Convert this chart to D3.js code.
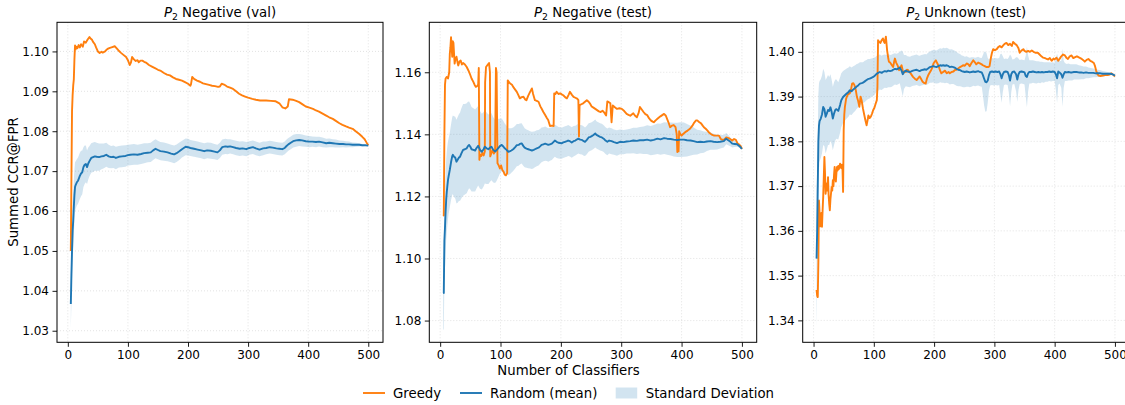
<!DOCTYPE html>
<html><head><meta charset="utf-8">
<script src="https://cdn.jsdelivr.net/npm/d3@7"></script>
<style>body{margin:0;background:#fff}svg{display:block}text{font-family:"DejaVu Sans",sans-serif;fill:#000}</style>
</head><body><svg id="chart" width="1125" height="405"></svg>
<script>
// ---------- data ----------
const xTicks = [0, 100, 200, 300, 400, 500];
const p1YTicks = [1.03, 1.04, 1.05, 1.06, 1.07, 1.08, 1.09, 1.10];
const p2YTicks = [1.08, 1.10, 1.12, 1.14, 1.16];
const p3YTicks = [1.34, 1.35, 1.36, 1.37, 1.38, 1.39, 1.40];
const titles = ["Negative (val)", "Negative (test)", "Unknown (test)"];
const legendLabels = ["Greedy", "Random (mean)", "Standard Deviation"];

// Greedy: [classifiers, value]
const p1Greedy = [[5,1.050],[6,1.068],[7,1.085],[8,1.089],[9,1.0915],[10,1.093],[11,1.098],[12,1.1015],[13,1.1005],[14,1.1012],[16,1.1008],[18,1.1016],[20,1.1010],[22,1.1018],[25,1.1012],[27,1.1025],[30,1.1022],[33,1.1030],[36,1.1036],[38,1.1032],[40,1.1030],[42,1.1024],[45,1.1018],[47,1.1010],[50,1.1000],[53,1.0996],[56,1.0999],[58,1.0997],[62,1.1000],[65,1.1005],[67,1.1007],[70,1.1009],[74,1.1011],[78,1.1013],[81,1.1008],[84,1.1003],[88,1.0997],[92,1.0992],[97,1.0986],[100,1.0978],[103,1.0966],[105,1.0972],[107,1.0986],[110,1.0980],[113,1.0976],[116,1.0978],[118,1.0973],[121,1.0977],[124,1.0977],[127,1.0974],[130,1.0972],[135,1.0966],[140,1.0962],[145,1.0958],[150,1.0954],[155,1.0951],[160,1.0946],[165,1.0942],[170,1.0940],[175,1.0935],[180,1.0931],[185,1.0929],[190,1.0927],[195,1.0923],[200,1.0919],[204,1.0914],[205,1.0918],[207,1.0936],[210,1.0931],[215,1.0927],[220,1.0924],[225,1.0920],[230,1.0918],[235,1.0916],[240,1.0914],[245,1.0913],[250,1.0911],[253,1.0912],[256,1.0919],[260,1.0917],[265,1.0912],[270,1.0909],[275,1.0906],[280,1.0900],[285,1.0894],[290,1.0890],[295,1.0887],[300,1.0884],[307,1.0881],[313,1.0879],[320,1.0877],[330,1.0877],[338,1.0876],[346,1.0875],[352,1.0870],[357,1.0860],[362,1.0857],[366,1.0862],[368,1.0880],[374,1.0879],[380,1.0876],[385,1.0873],[390,1.0868],[396,1.0862],[402,1.0859],[408,1.0856],[413,1.0852],[418,1.0849],[424,1.0844],[430,1.0839],[435,1.0835],[441,1.0831],[446,1.0826],[452,1.0820],[457,1.0816],[463,1.0812],[468,1.0809],[474,1.0806],[479,1.0800],[485,1.0793],[490,1.0786],[494,1.0780],[497,1.0772],[500,1.0765]];

// Random: [classifiers, mean, std]
const p1Random = [[5,1.0367,0.0062],[6,1.044,0.007],[7,1.050,0.007],[8,1.055,0.007],[9,1.0576,0.007],[10,1.061,0.0068],[11,1.064,0.0065],[12,1.066,0.0062],[13,1.0665,0.006],[15,1.0672,0.0058],[17,1.0676,0.0058],[18,1.068,0.0058],[20,1.0688,0.0058],[22,1.0694,0.0057],[24,1.0697,0.0055],[26,1.0710,0.005],[28,1.0716,0.0048],[30,1.0718,0.0046],[32,1.0710,0.0042],[34,1.0719,0.004],[36,1.0725,0.0038],[39,1.0733,0.0037],[42,1.0735,0.0037],[45,1.0737,0.0036],[48,1.0736,0.0035],[52,1.0735,0.0034],[56,1.0737,0.0032],[60,1.0738,0.0031],[64,1.0741,0.003],[68,1.0737,0.0029],[72,1.0735,0.0028],[76,1.0736,0.0028],[80,1.0733,0.0028],[85,1.0736,0.0027],[90,1.0737,0.0027],[96,1.0738,0.0027],[100,1.0740,0.0026],[104,1.0741,0.0026],[110,1.0742,0.0026],[116,1.0741,0.0025],[122,1.0743,0.0025],[127,1.0745,0.0025],[133,1.0746,0.0024],[138,1.0747,0.0024],[142,1.0752,0.0024],[146,1.0756,0.0024],[150,1.0753,0.0023],[154,1.0750,0.0023],[160,1.0749,0.0023],[166,1.0747,0.0022],[172,1.0744,0.0022],[177,1.0742,0.0022],[181,1.0745,0.0022],[185,1.0749,0.0022],[190,1.0755,0.0021],[196,1.0761,0.0021],[200,1.0760,0.0021],[204,1.0758,0.002],[210,1.0756,0.002],[216,1.0754,0.002],[222,1.0752,0.002],[227,1.0750,0.002],[232,1.0752,0.002],[238,1.0751,0.002],[244,1.0749,0.0019],[249,1.0747,0.0019],[253,1.0752,0.0019],[257,1.0760,0.0019],[262,1.0762,0.0019],[266,1.0761,0.0019],[270,1.0762,0.0018],[275,1.0760,0.0018],[280,1.0758,0.0018],[286,1.0756,0.0018],[291,1.0757,0.0018],[297,1.0755,0.0018],[302,1.0758,0.0017],[308,1.0760,0.0017],[313,1.0757,0.0017],[319,1.0754,0.0017],[325,1.0757,0.0017],[330,1.0758,0.0016],[336,1.0760,0.0016],[341,1.0759,0.0016],[347,1.0757,0.0016],[352,1.0756,0.0016],[357,1.0755,0.0016],[361,1.0758,0.0016],[364,1.0763,0.0016],[367,1.0767,0.0016],[371,1.0771,0.0016],[375,1.0775,0.0016],[380,1.0777,0.0016],[385,1.0778,0.0015],[390,1.0777,0.0015],[396,1.0775,0.0014],[402,1.0774,0.0014],[407,1.0774,0.0013],[413,1.0773,0.0013],[418,1.0774,0.0012],[424,1.0772,0.0012],[430,1.0770,0.0011],[435,1.0771,0.0011],[441,1.0770,0.001],[446,1.0769,0.001],[452,1.0768,0.0009],[458,1.0768,0.0008],[463,1.0767,0.0008],[468,1.0767,0.0007],[474,1.0766,0.0006],[480,1.0766,0.0005],[485,1.0766,0.0004],[490,1.0765,0.0003],[495,1.0765,0.0002],[500,1.0764,0.0]];

const p2Greedy = [[5,1.1137],[6,1.1139],[7,1.140],[8,1.156],[9,1.158],[11,1.1585],[13,1.158],[15,1.160],[16,1.166],[17,1.168],[18,1.1713],[19,1.168],[20,1.165],[21,1.170],[22,1.1695],[23,1.166],[24,1.1628],[25,1.164],[27,1.165],[29,1.163],[30,1.1622],[32,1.1635],[34,1.1638],[36,1.1625],[38,1.163],[41,1.1625],[44,1.1617],[47,1.1605],[49,1.1596],[52,1.158],[55,1.1569],[57,1.156],[59,1.1553],[61,1.1555],[63,1.1560],[64,1.1614],[65,1.1318],[66,1.1335],[68,1.1330],[70,1.1340],[72,1.1332],[74,1.1345],[74.5,1.1568],[76,1.1617],[79,1.1625],[81,1.1630],[82.5,1.1600],[83,1.1329],[85,1.1340],[87,1.1350],[89,1.1338],[91,1.1345],[92.4,1.1614],[93.5,1.1600],[95,1.1307],[97,1.1300],[99,1.1290],[101,1.1300],[103,1.1285],[105,1.1280],[107,1.1270],[109,1.1268],[111,1.1275],[112,1.1574],[114,1.1568],[116,1.1564],[119,1.1560],[121,1.1553],[124,1.1545],[127,1.1537],[130,1.1525],[132,1.1516],[135,1.1520],[138,1.1521],[141,1.1512],[143,1.1510],[146,1.1525],[149,1.1537],[152,1.1548],[154,1.1530],[157,1.1510],[160,1.1508],[163,1.1505],[166,1.1490],[168,1.1483],[171,1.1472],[174,1.1462],[177,1.1452],[179,1.1446],[182,1.1427],[185,1.1428],[188,1.1427],[189,1.1532],[191,1.1530],[193,1.1537],[196,1.1530],[199,1.1532],[202,1.1528],[204,1.1526],[207,1.1520],[210,1.1516],[213,1.1528],[215,1.1537],[218,1.1528],[221,1.1521],[224,1.1518],[227,1.1515],[229,1.1510],[230,1.1393],[231,1.1494],[234,1.1497],[237,1.1500],[240,1.1505],[243,1.1510],[246,1.1505],[248,1.1500],[251,1.1490],[254,1.1486],[257,1.1482],[260,1.1478],[263,1.1474],[266,1.1472],[269,1.1476],[272,1.1470],[275,1.1461],[277,1.1506],[280,1.1503],[282,1.1500],[284,1.1439],[286,1.1493],[289,1.1488],[293,1.1482],[297,1.1484],[301,1.1482],[305,1.1475],[309,1.1466],[312,1.1463],[315,1.1460],[318,1.1465],[320,1.1468],[323,1.1460],[326,1.1455],[329,1.1470],[331,1.1488],[334,1.1480],[337,1.1472],[340,1.1465],[343,1.1462],[346,1.1452],[349,1.1445],[352,1.1441],[354,1.1439],[357,1.1445],[360,1.1450],[363,1.1455],[365,1.1458],[368,1.1462],[371,1.1466],[374,1.1460],[376,1.1450],[379,1.1435],[381,1.1423],[384,1.1428],[387,1.1430],[390,1.1423],[392,1.1400],[393,1.1343],[394,1.1380],[395,1.1345],[396,1.1410],[398,1.1400],[400,1.1396],[403,1.1402],[406,1.1407],[410,1.1412],[414,1.1418],[418,1.1428],[421,1.1438],[424,1.1445],[426,1.1445],[429,1.1440],[432,1.1436],[435,1.1428],[437,1.1423],[440,1.1418],[443,1.1412],[446,1.1405],[448,1.1402],[451,1.1398],[454,1.1396],[458,1.1396],[462,1.1396],[465,1.1385],[468,1.1382],[471,1.1384],[474,1.1390],[478,1.1388],[481,1.1384],[484,1.1380],[487,1.1385],[490,1.1382],[493,1.1370],[496,1.1366],[498,1.1362],[500,1.1353]];

const p2Random = [[5,1.0889,0.0115],[6,1.0889,0.012],[7,1.1057,0.013],[8,1.1100,0.013],[9,1.1150,0.013],[10,1.1190,0.013],[11,1.1215,0.013],[12,1.1235,0.0128],[13,1.1253,0.0125],[14,1.1265,0.0122],[16,1.1286,0.012],[18,1.1310,0.0122],[20,1.1330,0.0125],[21,1.1334,0.0127],[23,1.1328,0.013],[25,1.1325,0.0132],[27,1.1312,0.0135],[29,1.1318,0.0138],[31,1.1325,0.014],[33,1.1328,0.0142],[35,1.1338,0.0145],[38,1.1350,0.0148],[41,1.1352,0.0146],[44,1.1355,0.0145],[46,1.1362,0.0143],[48,1.1366,0.014],[50,1.1360,0.0138],[52,1.1352,0.0136],[55,1.1350,0.0134],[58,1.1348,0.0132],[60,1.1355,0.013],[63,1.1363,0.0128],[66,1.1350,0.0125],[69,1.1344,0.0122],[72,1.1352,0.012],[74,1.1360,0.0118],[77,1.1355,0.0115],[80,1.1352,0.0112],[83,1.1358,0.011],[85,1.1360,0.0108],[88,1.1350,0.0105],[91,1.1345,0.0102],[93,1.1348,0.0100],[96,1.1355,0.0095],[99,1.1362,0.0088],[102,1.1366,0.0085],[105,1.1360,0.0082],[107,1.1355,0.008],[110,1.1350,0.0078],[113,1.1344,0.0076],[116,1.1346,0.0074],[118,1.1348,0.0072],[121,1.1352,0.007],[124,1.1358,0.0069],[127,1.1365,0.0068],[130,1.1366,0.0067],[132,1.1369,0.0066],[135,1.1371,0.0065],[138,1.1362,0.0064],[140,1.1357,0.0063],[143,1.1354,0.0062],[146,1.1352,0.0061],[149,1.1350,0.006],[152,1.1348,0.006],[155,1.1350,0.0059],[157,1.1352,0.0058],[160,1.1355,0.0058],[163,1.1357,0.0057],[166,1.1362,0.0056],[168,1.1366,0.0056],[171,1.1368,0.0055],[174,1.1370,0.0055],[177,1.1368,0.0054],[179,1.1366,0.0054],[182,1.1368,0.0053],[185,1.1370,0.0053],[188,1.1376,0.0052],[190,1.1380,0.0052],[193,1.1376,0.0052],[196,1.1373,0.0051],[199,1.1372,0.0051],[201,1.1371,0.005],[204,1.1374,0.005],[207,1.1376,0.005],[210,1.1378,0.005],[212,1.1380,0.005],[215,1.1378,0.0049],[218,1.1374,0.0049],[221,1.1378,0.0049],[224,1.1380,0.0048],[227,1.1384,0.0048],[229,1.1386,0.0048],[232,1.1383,0.0047],[235,1.1382,0.0047],[238,1.1378,0.0047],[240,1.1376,0.0046],[243,1.1382,0.0046],[246,1.1390,0.0046],[249,1.1392,0.0045],[251,1.1394,0.0045],[254,1.1398,0.0045],[257,1.1403,0.0045],[259,1.1398,0.0044],[262,1.1395,0.0044],[265,1.1392,0.0044],[268,1.1390,0.0044],[271,1.1386,0.0043],[274,1.1380,0.0043],[277,1.1376,0.0043],[280,1.1380,0.0042],[284,1.1378,0.0042],[288,1.1375,0.0041],[293,1.1372,0.0041],[298,1.1376,0.004],[304,1.1375,0.0039],[309,1.1377,0.0039],[315,1.1378,0.004],[320,1.1380,0.0041],[326,1.1379,0.0042],[331,1.1381,0.0043],[337,1.1381,0.0044],[343,1.1383,0.0046],[349,1.1380,0.0047],[354,1.1382,0.0048],[360,1.1386,0.0049],[365,1.1384,0.005],[371,1.1388,0.0051],[376,1.1386,0.0052],[382,1.1385,0.0053],[387,1.1383,0.0054],[393,1.1382,0.0055],[398,1.1383,0.0056],[404,1.1383,0.0055],[409,1.1381,0.0052],[415,1.1380,0.0048],[420,1.1378,0.0044],[426,1.1375,0.004],[431,1.1376,0.0037],[437,1.1375,0.0034],[442,1.1377,0.0031],[448,1.1378,0.0028],[453,1.1376,0.0026],[459,1.1375,0.0024],[464,1.1376,0.0022],[470,1.1378,0.002],[474,1.1386,0.0018],[478,1.1380,0.0016],[481,1.1376,0.0014],[484,1.1370,0.0012],[488,1.1369,0.001],[492,1.1368,0.0008],[496,1.1362,0.0005],[500,1.1353,0.0]];

const p3Greedy = [[5,1.3468],[6,1.3455],[7,1.3452],[8,1.3530],[9,1.3668],[10,1.3640],[11,1.3610],[12,1.3624],[13,1.3640],[14,1.3609],[15,1.3645],[16,1.3676],[17,1.3720],[18,1.3765],[19,1.3730],[20,1.3683],[21,1.3700],[22,1.3706],[23,1.3690],[24,1.3720],[25,1.3680],[26,1.3660],[27,1.3646],[28,1.3670],[30,1.3698],[31,1.3690],[32,1.3713],[33,1.3700],[34,1.3725],[35,1.3743],[36,1.3720],[37,1.3710],[38,1.3730],[39,1.3743],[40,1.3735],[41,1.3745],[42,1.3738],[44,1.3750],[45,1.3745],[46,1.3740],[47,1.3748],[48,1.3740],[49,1.3687],[50,1.3825],[51,1.3860],[52,1.3877],[54,1.3895],[55,1.3899],[57,1.3905],[60,1.3907],[62,1.3915],[64,1.3929],[66,1.3930],[68,1.3925],[70,1.3915],[72,1.3899],[74,1.3890],[76,1.3877],[78,1.3900],[80,1.3890],[82,1.3873],[84,1.3860],[86,1.3847],[88,1.3836],[90,1.3850],[91,1.3858],[93,1.3852],[95,1.3855],[97,1.3862],[99,1.3870],[101,1.3875],[103,1.3884],[105,1.3892],[106,1.3922],[107,1.4026],[109,1.4022],[111,1.4020],[113,1.4026],[115,1.4030],[117,1.4022],[118,1.4020],[120,1.4034],[122,1.4004],[124,1.3985],[125,1.3978],[127,1.3976],[130,1.3970],[132,1.3966],[134,1.3980],[135,1.3985],[137,1.3976],[140,1.3968],[142,1.3959],[144,1.3965],[146,1.3970],[149,1.3952],[151,1.3956],[153,1.3955],[155,1.3960],[157,1.3959],[159,1.3955],[161,1.3952],[163,1.3948],[165,1.3944],[168,1.3940],[171,1.3937],[174,1.3942],[176,1.3945],[179,1.3938],[181,1.3933],[184,1.3930],[186,1.3929],[188,1.3940],[190,1.3947],[192,1.3952],[195,1.3959],[197,1.3965],[199,1.3974],[201,1.3978],[203,1.3981],[205,1.3975],[207,1.3970],[210,1.3958],[212,1.3952],[215,1.3955],[218,1.3958],[221,1.3952],[224,1.3955],[226,1.3952],[229,1.3955],[232,1.3956],[235,1.3960],[237,1.3960],[240,1.3963],[243,1.3966],[246,1.3968],[248,1.3970],[251,1.3969],[254,1.3974],[257,1.3972],[259,1.3968],[262,1.3975],[265,1.3981],[268,1.3976],[270,1.3972],[273,1.3976],[276,1.3974],[279,1.3972],[281,1.3970],[284,1.3968],[287,1.3966],[290,1.3966],[292,1.3968],[294,1.3985],[296,1.3998],[298,1.4006],[301,1.4004],[304,1.4006],[306,1.4010],[309,1.4013],[312,1.4010],[315,1.4015],[317,1.4018],[320,1.4020],[323,1.4015],[326,1.4018],[329,1.4013],[331,1.4022],[334,1.4018],[337,1.4015],[340,1.4008],[342,1.3998],[345,1.4003],[348,1.4006],[350,1.4002],[353,1.4000],[356,1.4002],[359,1.4000],[362,1.4003],[365,1.4000],[368,1.3998],[372,1.3998],[375,1.3994],[378,1.3990],[381,1.3987],[384,1.3986],[387,1.3984],[389,1.3983],[392,1.3986],[395,1.3980],[398,1.3985],[400,1.3983],[403,1.3987],[406,1.3980],[409,1.3986],[411,1.3990],[414,1.3994],[417,1.3992],[420,1.3986],[422,1.3984],[425,1.3990],[428,1.3992],[431,1.3986],[434,1.3988],[437,1.3990],[441,1.3987],[444,1.3985],[447,1.3982],[450,1.3978],[453,1.3982],[456,1.3984],[459,1.3980],[462,1.3978],[465,1.3975],[467,1.3968],[469,1.3957],[471,1.3950],[473,1.3947],[476,1.3946],[480,1.3947],[484,1.3948],[488,1.3948],[491,1.3949],[494,1.3952],[497,1.3949],[500,1.3945]];

const p3Random = [[5,1.3538,0.0155],[6,1.3600,0.013],[7,1.3700,0.012],[8,1.3800,0.0105],[9,1.3835,0.0095],[10,1.3845,0.009],[12,1.3851,0.0088],[14,1.3860,0.0087],[16,1.3877,0.0085],[18,1.3872,0.0083],[20,1.3855,0.0082],[22,1.3862,0.008],[24,1.3870,0.0078],[26,1.3868,0.0076],[28,1.3876,0.0074],[30,1.3866,0.0072],[32,1.3851,0.0071],[34,1.3862,0.007],[36,1.3870,0.0068],[38,1.3872,0.0066],[41,1.3868,0.0064],[44,1.3881,0.0062],[46,1.3892,0.006],[49,1.3899,0.0058],[52,1.3903,0.0057],[55,1.3907,0.0056],[58,1.3910,0.0055],[60,1.3914,0.0054],[63,1.3912,0.0053],[66,1.3916,0.0052],[69,1.3919,0.0051],[71,1.3922,0.005],[74,1.3925,0.0049],[77,1.3929,0.0048],[80,1.3930,0.0047],[82,1.3931,0.0046],[85,1.3934,0.0046],[88,1.3937,0.0045],[90,1.3939,0.0045],[93,1.3940,0.0044],[96,1.3942,0.0043],[99,1.3944,0.0042],[102,1.3947,0.0041],[104,1.3950,0.004],[107,1.3953,0.004],[110,1.3955,0.0039],[113,1.3953,0.0038],[115,1.3955,0.0038],[118,1.3957,0.0037],[121,1.3956,0.0037],[124,1.3958,0.0037],[127,1.3957,0.0036],[130,1.3958,0.0036],[132,1.3960,0.0036],[135,1.3962,0.0035],[138,1.3961,0.0035],[141,1.3963,0.0035],[143,1.3965,0.0035],[146,1.3958,0.0045],[148,1.3950,0.005],[150,1.3955,0.0038],[153,1.3958,0.0035],[156,1.3956,0.0034],[160,1.3955,0.0034],[163,1.3957,0.0034],[165,1.3958,0.0034],[168,1.3959,0.0034],[171,1.3960,0.0034],[174,1.3958,0.0034],[176,1.3957,0.0034],[179,1.3959,0.0034],[182,1.3960,0.0034],[185,1.3961,0.0034],[187,1.3960,0.0034],[190,1.3963,0.0035],[193,1.3966,0.0035],[196,1.3967,0.0036],[199,1.3968,0.0036],[201,1.3967,0.0037],[204,1.3966,0.0037],[207,1.3968,0.0038],[210,1.3970,0.0038],[213,1.3969,0.0038],[215,1.3970,0.0039],[218,1.3969,0.0039],[221,1.3970,0.0039],[224,1.3968,0.0039],[226,1.3966,0.0039],[229,1.3967,0.0039],[232,1.3966,0.0038],[235,1.3964,0.0038],[237,1.3962,0.0038],[240,1.3960,0.0037],[243,1.3959,0.0036],[246,1.3957,0.0035],[248,1.3956,0.0035],[251,1.3955,0.0034],[254,1.3956,0.0034],[257,1.3955,0.0033],[259,1.3954,0.0033],[262,1.3955,0.0033],[265,1.3956,0.0032],[268,1.3955,0.0032],[271,1.3956,0.0032],[273,1.3957,0.0032],[276,1.3955,0.0032],[279,1.3954,0.0032],[281,1.3948,0.0045],[283,1.3940,0.006],[285,1.3933,0.0067],[287,1.3932,0.0065],[289,1.3936,0.005],[291,1.3948,0.0035],[293,1.3955,0.003],[296,1.3956,0.003],[299,1.3955,0.003],[302,1.3956,0.003],[305,1.3955,0.003],[308,1.3956,0.003],[310,1.3950,0.0045],[312,1.3941,0.0055],[314,1.3950,0.004],[316,1.3955,0.0029],[319,1.3956,0.0029],[322,1.3955,0.0029],[324,1.3948,0.004],[326,1.3936,0.0058],[328,1.3950,0.004],[330,1.3955,0.0028],[333,1.3956,0.0028],[336,1.3950,0.0038],[338,1.3938,0.005],[340,1.3950,0.0035],[342,1.3955,0.0027],[345,1.3956,0.0027],[348,1.3955,0.0027],[350,1.3954,0.0027],[352,1.3946,0.0045],[354,1.3944,0.0068],[356,1.3952,0.004],[358,1.3955,0.0026],[361,1.3955,0.0026],[364,1.3956,0.0025],[367,1.3955,0.0025],[370,1.3954,0.0025],[373,1.3955,0.0024],[376,1.3954,0.0024],[379,1.3955,0.0023],[382,1.3954,0.0023],[385,1.3955,0.0022],[388,1.3955,0.0022],[391,1.3956,0.0021],[394,1.3955,0.0021],[397,1.3956,0.0021],[400,1.3955,0.002],[402,1.3950,0.0035],[404,1.3941,0.0055],[406,1.3956,0.003],[408,1.3954,0.0025],[411,1.3950,0.003],[413,1.3942,0.0065],[415,1.3950,0.003],[417,1.3955,0.002],[420,1.3954,0.0019],[423,1.3955,0.0019],[426,1.3954,0.0018],[429,1.3954,0.0018],[432,1.3955,0.0017],[436,1.3955,0.0017],[440,1.3954,0.0016],[444,1.3954,0.0015],[448,1.3953,0.0014],[452,1.3954,0.0013],[456,1.3953,0.0012],[460,1.3953,0.0011],[464,1.3953,0.001],[468,1.3952,0.0009],[472,1.3952,0.0008],[476,1.3952,0.0007],[480,1.3951,0.0006],[484,1.3951,0.0005],[488,1.3951,0.0004],[492,1.3951,0.0003],[496,1.3950,0.0002],[500,1.3947,0.0]];

// ---------- drawing ----------
const ORANGE = "#ff7f0e", BLUE = "#1f77b4";
const TOP = 22.3, BOTTOM = 342.3;
const LW = 1.9;
const panels = [
  {title: titles[0], left: 57, right: 383, yDomain: [1.0271, 1.1073], yTicks: p1YTicks, greedy: p1Greedy, random: p1Random},
  {title: titles[1], left: 429.3, right: 756.7, yDomain: [1.0730, 1.1761], yTicks: p2YTicks, greedy: p2Greedy, random: p2Random},
  {title: titles[2], left: 802.7, right: 1129.7, yDomain: [1.3351, 1.4066], yTicks: p3YTicks, greedy: p3Greedy, random: p3Random}
];
const svg = d3.select("#chart");

panels.forEach((p, i) => {
  const x = d3.scaleLinear().domain([-18, 524.5]).range([p.left, p.right]);
  const y = d3.scaleLinear().domain(p.yDomain).range([BOTTOM, TOP]);
  const g = svg.append("g");
  const clipId = "clip" + i;
  g.append("clipPath").attr("id", clipId).append("rect")
    .attr("x", p.left).attr("y", TOP).attr("width", p.right - p.left).attr("height", BOTTOM - TOP);

  // grid
  const grid = g.append("g").attr("stroke", "#b0b0b0").attr("stroke-opacity", 0.45)
    .attr("stroke-width", 0.8).attr("stroke-dasharray", "1,2");
  grid.selectAll(".gx").data(xTicks).join("line")
    .attr("x1", d => x(d)).attr("x2", d => x(d)).attr("y1", TOP).attr("y2", BOTTOM);
  grid.selectAll(".gy").data(p.yTicks).join("line")
    .attr("x1", p.left).attr("x2", p.right).attr("y1", d => y(d)).attr("y2", d => y(d));

  const plot = g.append("g").attr("clip-path", `url(#${clipId})`);
  const area = d3.area().x(d => x(d[0])).y0(d => y(d[1] - d[2])).y1(d => y(d[1] + d[2]));
  plot.append("path").datum(p.random).attr("d", area).attr("fill", BLUE).attr("fill-opacity", 0.2);
  const lineG = d3.line().x(d => x(d[0])).y(d => y(d[1]));
  plot.append("path").datum(p.greedy).attr("d", lineG).attr("fill", "none")
    .attr("stroke", ORANGE).attr("stroke-width", LW).attr("stroke-linejoin", "round");
  plot.append("path").datum(p.random).attr("d", lineG).attr("fill", "none")
    .attr("stroke", BLUE).attr("stroke-width", LW).attr("stroke-linejoin", "round");

  // axes
  const xa = g.append("g").attr("transform", `translate(0,${BOTTOM})`)
    .call(d3.axisBottom(x).tickValues(xTicks).tickSize(4.5).tickPadding(3.5).tickFormat(d3.format("d")));
  const ya = g.append("g").attr("transform", `translate(${p.left},0)`)
    .call(d3.axisLeft(y).tickValues(p.yTicks).tickSize(4.5).tickPadding(3.5).tickFormat(d3.format(".2f")));
  [xa, ya].forEach(a => {
    a.select(".domain").remove();
    a.selectAll("line").attr("stroke", "#000").attr("stroke-width", 0.9);
    a.selectAll("text").attr("font-size", 12).attr("font-family", "DejaVu Sans").attr("fill", "#000");
  });

  // frame
  g.append("rect").attr("x", p.left).attr("y", TOP).attr("width", p.right - p.left)
    .attr("height", BOTTOM - TOP).attr("fill", "none").attr("stroke", "#000").attr("stroke-width", 1);

  // title
  const t = g.append("text").attr("x", (p.left + p.right) / 2).attr("y", 16.5)
    .attr("text-anchor", "middle").attr("font-size", 13.3);
  t.append("tspan").attr("font-style", "italic").text("P");
  t.append("tspan").attr("font-size", 9.3).attr("dy", 3).text("2");
  t.append("tspan").attr("dy", -3).text(" " + p.title);
});

// axis labels
svg.append("text").attr("transform", "translate(17.5,182) rotate(-90)")
  .attr("text-anchor", "middle").attr("font-size", 13.3).text("Summed CCR@FPR");
svg.append("text").attr("x", 568.5).attr("y", 374.5)
  .attr("text-anchor", "middle").attr("font-size", 13.3).text("Number of Classifiers");

// legend
const leg = svg.append("g");
const legItems = [
  {label: legendLabels[0], type: "line", color: ORANGE, x: 363},
  {label: legendLabels[1], type: "line", color: BLUE, x: 460},
  {label: legendLabels[2], type: "patch", color: BLUE, x: 615.7}
];
legItems.forEach(it => {
  if (it.type === "line") {
    leg.append("line").attr("x1", it.x).attr("x2", it.x + 22).attr("y1", 393).attr("y2", 393)
      .attr("stroke", it.color).attr("stroke-width", LW);
  } else {
    leg.append("rect").attr("x", it.x).attr("y", 387.5).attr("width", 21.5).attr("height", 11)
      .attr("fill", it.color).attr("fill-opacity", 0.2);
  }
  leg.append("text").attr("x", it.x + 30).attr("y", 397.8).attr("font-size", 13.3).text(it.label);
});
</script></body></html>
